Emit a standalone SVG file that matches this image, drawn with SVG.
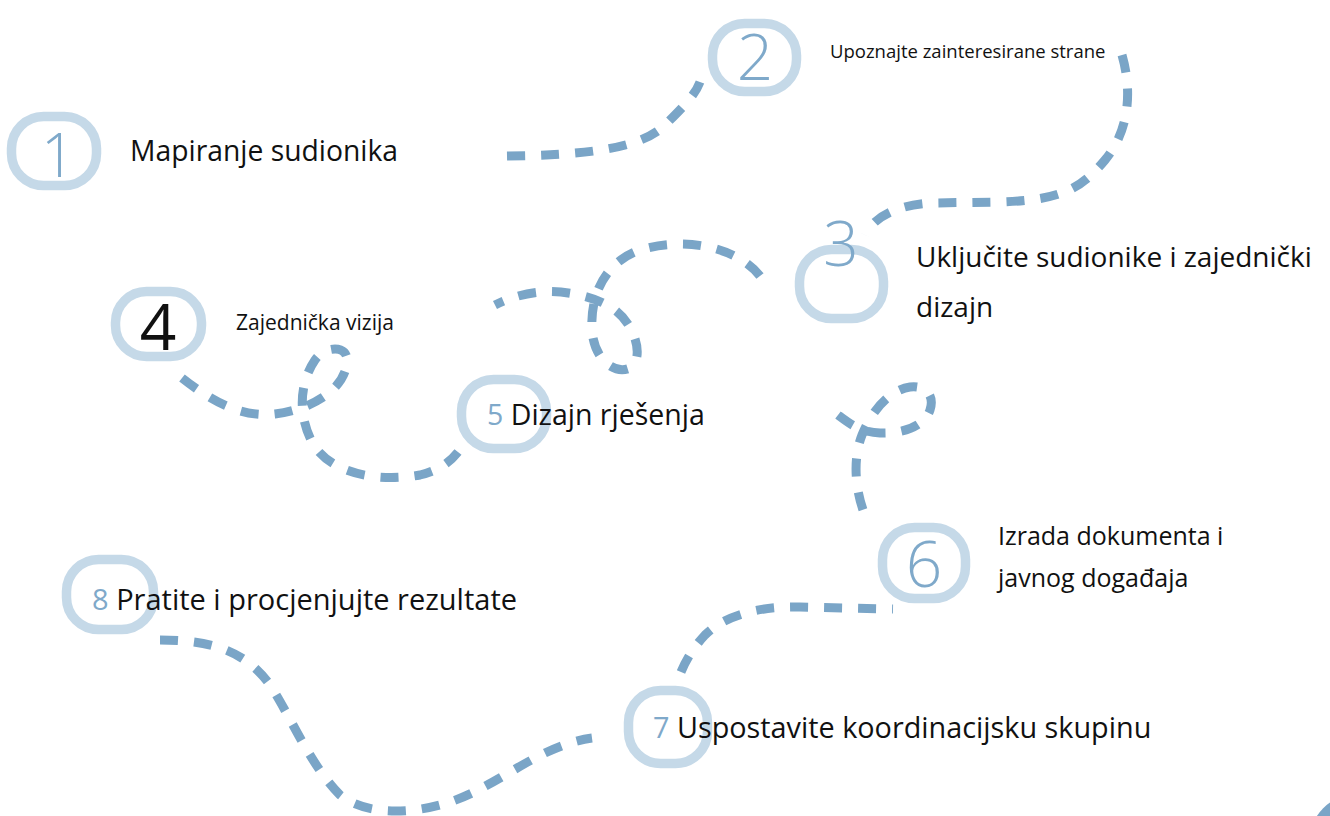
<svg xmlns="http://www.w3.org/2000/svg" width="1330" height="816" viewBox="0 0 1330 816">
<style>
.ring{fill:none;stroke:#c5d9e8;stroke-width:9.5}
.dash{fill:none;stroke:#7aa5c7;stroke-width:9;stroke-dasharray:18 16}
.t{font-family:"Open Sans","Noto Sans",sans-serif;fill:#111}
.big{font-family:"Open Sans","Noto Sans",sans-serif;fill:#7fa9ca;font-weight:300;text-anchor:middle}
.num{fill:#7fa9ca}
</style>
<rect width="1330" height="816" fill="#fff"/>
<g id="connectors">
<path class="dash" d="M507,156 C580,155 640,150 665,125 C685,105 695,95 700,82"/>
<path class="dash" d="M1122,55 C1132,90 1130,130 1105,160 C1080,190 1060,200 1000,202 L930,203 C900,205 875,215 865,235"/>
<path class="dash" d="M760,276 C740,250 690,235 640,250 C605,262 590,295 592,330 C594,360 615,375 630,368 C645,358 635,325 615,310 C595,295 560,290 540,292 C520,294 505,300 495,305"/>
<path class="dash" d="M182,378 C210,400 240,418 275,414 C310,410 345,390 347,362 C349,345 325,345 315,360 C298,385 298,420 315,447 C335,475 380,482 420,475 C440,470 450,462 458,452"/>
<path class="dash" d="M838,415 C850,424 860,432 880,433 C905,434 925,425 930,410 C935,395 925,385 910,387 C890,390 872,410 862,435 C852,460 855,495 868,522"/>
<path class="dash" d="M681,672 C686,660 693,648 705,635 C725,615 760,606 800,607 L893,609"/>
<path class="dash" d="M160,640 C210,640 245,650 270,685 C290,715 310,765 340,795 C365,815 410,815 450,802 C500,785 540,745 592,738"/>
</g>
<g id="node1">
<rect class="ring" x="11.5" y="116.5" width="85" height="69" rx="32"/>
<text class="big" x="58" y="177" font-size="60">1</text>
<text class="t" x="130" y="161" font-size="28.3">Mapiranje sudionika</text>
</g>
<g id="node2">
<rect class="ring" x="712.5" y="23.5" width="84" height="68" rx="32"/>
<text class="big" x="755" y="80" font-size="64">2</text>
<text class="t" x="830" y="58" font-size="18.5">Upoznajte zainteresirane strane</text>
</g>
<g id="node3">
<rect class="ring" x="799.5" y="249.5" width="84" height="69" rx="32"/>
<text class="big" x="841" y="266" font-size="62">3</text>
<text class="t" x="916" y="267" font-size="28">Uključite sudionike i zajednički</text>
<text class="t" x="916" y="317" font-size="28">dizajn</text>
</g>
<g id="node4">
<rect class="ring" x="115.5" y="291.5" width="86" height="65" rx="31"/>
<text class="t" x="158" y="350" font-size="64" text-anchor="middle">4</text>
<text class="t" x="236" y="330" font-size="21">Zajednička vizija</text>
</g>
<g id="node5">
<rect class="ring" x="461.5" y="379.5" width="85" height="69" rx="32"/>
<text class="t" x="487" y="425" font-size="28.5"><tspan class="num">5</tspan> Dizajn rješenja</text>
</g>
<g id="node6">
<rect class="ring" x="882.5" y="527.5" width="83" height="71" rx="32"/>
<text class="big" x="924" y="587" font-size="64">6</text>
<text class="t" x="998" y="545" font-size="25">Izrada dokumenta i</text>
<text class="t" x="998" y="587" font-size="25">javnog događaja</text>
</g>
<g id="node7">
<rect class="ring" x="628.5" y="690.5" width="79" height="73" rx="32"/>
<text class="t" x="653" y="738" font-size="28.8"><tspan class="num">7</tspan> Uspostavite koordinacijsku skupinu</text>
</g>
<g id="node8">
<rect class="ring" x="66.5" y="559.5" width="87" height="70" rx="32"/>
<text class="t" x="92" y="610" font-size="29"><tspan class="num">8</tspan> Pratite i procjenjujte rezultate</text>
</g>
<circle cx="1355" cy="840" r="45" fill="#7aa5c7"/>
</svg>
